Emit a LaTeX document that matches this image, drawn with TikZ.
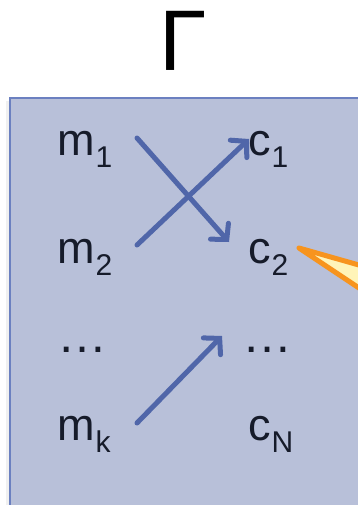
\documentclass[tikz,border=0pt]{standalone}
\usepackage{fontspec}
\setmainfont{Liberation Sans}
\usetikzlibrary{arrows.meta}
\definecolor{boxfill}{HTML}{B8C0D9}
\definecolor{boxline}{HTML}{6B80C0}
\definecolor{arrblue}{HTML}{5066A9}
\definecolor{txt}{HTML}{161B2A}
\definecolor{orng}{HTML}{F7941E}
\definecolor{pale}{HTML}{FFF4B8}
\tikzset{
  lbl/.style={anchor=base west, inner sep=0pt, text=txt, font=\fontsize{45}{45}\selectfont},
  dots/.style={anchor=base west, inner sep=0pt, text=txt, font=\fontsize{50}{50}\selectfont},
  link/.style={draw=arrblue, line width=5pt, line cap=round,
    -{Straight Barb[length=11pt,width=24pt,line cap=round]}},
}
\newcommand{\sbs}[1]{\kern1pt\raisebox{-12pt}{\fontsize{30}{30}\selectfont #1}}
\begin{document}
\begin{tikzpicture}[x=1pt,y=-1pt]
\useasboundingbox (0,0) rectangle (358,505);
\begin{scope}
\clip (0,0) rectangle (358,505);
% shadow and box
\fill[black!6] (6,101) rectangle (380,530);
\filldraw[fill=boxfill, draw=boxline, line width=2pt] (10,98) rectangle (380,530);
% orange callout wedge
\filldraw[fill=pale, draw=orng, line width=5pt, line join=round] (299,248) -- (380,271) -- (380,302) -- cycle;
\end{scope}
% title
\node[anchor=base, inner sep=0pt, font=\fontsize{86}{86}\selectfont] (gamma) at (183,71) {Γ};
% labels
\node[lbl] (m1) at (57,155) {m\sbs{1}};
\node[lbl] (m2) at (57,263) {m\sbs{2}};
\node[dots] (md) at (57,352) {…};
\node[lbl] (mk) at (57,440) {m\sbs{k}};
\node[lbl] (c1) at (248,155) {c\sbs{1}};
\node[lbl] (c2) at (248,263) {c\sbs{2}};
\node[dots] (cd) at (242,352) {…};
\node[lbl] (cN) at (248,440) {c\sbs{N}};
% arrow endpoints
\coordinate (s1) at (137,138);
\coordinate (t1) at (229,242);
\coordinate (s2) at (137,245);
\coordinate (t2) at (249,139);
\coordinate (s3) at (137,423);
\coordinate (t3) at (222,336);
\draw[link] (s1) -- (t1);
\draw[link] (s2) -- (t2);
\draw[link] (s3) -- (t3);
\end{tikzpicture}
\end{document}
